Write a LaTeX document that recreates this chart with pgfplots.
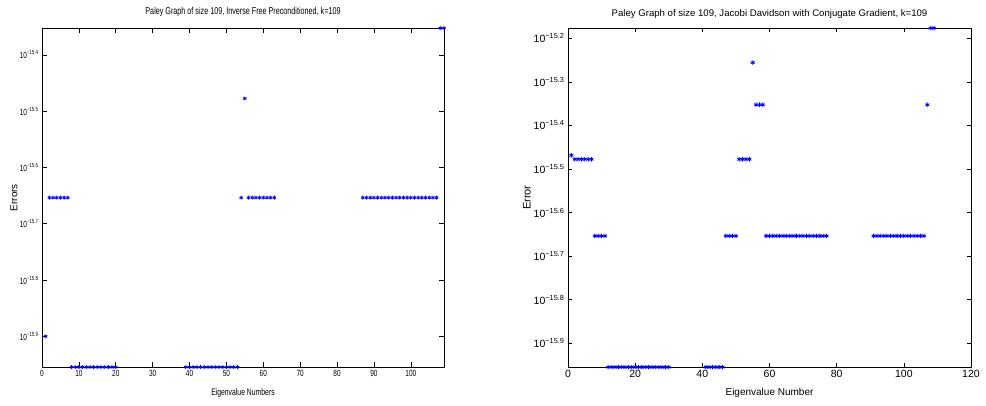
\documentclass[border=0pt]{standalone}
\usepackage{fontspec}
\setmainfont{Liberation Sans}
\newfontfamily\condfont[FakeStretch=0.72]{Liberation Sans}
\usepackage{pgfplots}
\pgfplotsset{compat=1.18}

\definecolor{mblue}{RGB}{0,0,255}

\begin{document}
\begin{tikzpicture}
\useasboundingbox (0,0) rectangle (986pt,405pt);

% left panel
\begin{axis}[
  at={(42pt,38pt)}, anchor=south west,
  scale only axis, width=402pt, height=339pt,
  ymode=log, xmin=0, xmax=109, ymin=1.1102e-16, ymax=4.4409e-16,
  xtick={0,10,...,100},
  ytick={1.2589e-16,1.5849e-16,1.9953e-16,2.5119e-16,3.1623e-16,3.9811e-16},
  yticklabels={10\textsuperscript{−15.9},10\textsuperscript{−15.8},10\textsuperscript{−15.7},10\textsuperscript{−15.6},10\textsuperscript{−15.5},10\textsuperscript{−15.4}},
  yminorticks=false,
  tick align=inside, major tick length=5pt,
  axis line style={line width=0.8pt}, every tick/.style={black, line width=0.6pt},
  /pgf/number format/assume math mode=true,
  tick label style={font=\condfont\fontsize{9}{10}\selectfont},
  title={Paley Graph of size 109, Inverse Free Preconditioned, k=109},
  title style={font=\condfont\fontsize{10}{11}\selectfont, at={(rel axis cs:0.5,1)}, yshift=10pt, anchor=center},
  xlabel={Eigenvalue Numbers},
  xlabel style={font=\condfont\fontsize{9.5}{10}\selectfont, at={(rel axis cs:0.5,0)}, yshift=-26pt, anchor=center},
  ylabel={Errors},
  ylabel style={font=\fontsize{10}{11}\selectfont, at={([xshift=-28pt]rel axis cs:0,0.5)}, anchor=center},
  clip=false,
]
\addplot[only marks, mark=asterisk, mark size=1.9pt, mark options={line width=0.8pt}, mblue] coordinates {
(1,1.2589e-16)
(2,2.2204e-16) (3,2.2204e-16) (4,2.2204e-16) (5,2.2204e-16) (6,2.2204e-16) (7,2.2204e-16)
(8,1.1102e-16) (9,1.1102e-16) (10,1.1102e-16) (11,1.1102e-16) (12,1.1102e-16) (13,1.1102e-16) (14,1.1102e-16)
(15,1.1102e-16) (16,1.1102e-16) (17,1.1102e-16) (18,1.1102e-16) (19,1.1102e-16) (20,1.1102e-16)
(39,1.1102e-16) (40,1.1102e-16) (41,1.1102e-16) (42,1.1102e-16) (43,1.1102e-16) (44,1.1102e-16) (45,1.1102e-16)
(46,1.1102e-16) (47,1.1102e-16) (48,1.1102e-16) (49,1.1102e-16) (50,1.1102e-16) (51,1.1102e-16) (52,1.1102e-16) (53,1.1102e-16)
(54,2.2204e-16) (55,3.3307e-16)
(56,2.2204e-16) (57,2.2204e-16) (58,2.2204e-16) (59,2.2204e-16) (60,2.2204e-16) (61,2.2204e-16) (62,2.2204e-16) (63,2.2204e-16)
(87,2.2204e-16) (88,2.2204e-16) (89,2.2204e-16) (90,2.2204e-16) (91,2.2204e-16) (92,2.2204e-16) (93,2.2204e-16)
(94,2.2204e-16) (95,2.2204e-16) (96,2.2204e-16) (97,2.2204e-16) (98,2.2204e-16) (99,2.2204e-16) (100,2.2204e-16)
(101,2.2204e-16) (102,2.2204e-16) (103,2.2204e-16) (104,2.2204e-16) (105,2.2204e-16) (106,2.2204e-16) (107,2.2204e-16)
(108,4.4409e-16) (109,4.4409e-16)
};
\end{axis}

% right panel
\begin{axis}[
  at={(568pt,38pt)}, anchor=south west,
  scale only axis, width=403pt, height=339pt,
  ymode=log, xmin=0, xmax=120, ymin=1.1102e-16, ymax=6.6613e-16,
  xtick={0,20,...,120},
  ytick={1.2589e-16,1.5849e-16,1.9953e-16,2.5119e-16,3.1623e-16,3.9811e-16,5.0119e-16,6.3096e-16},
  yticklabels={10\textsuperscript{−15.9},10\textsuperscript{−15.8},10\textsuperscript{−15.7},10\textsuperscript{−15.6},10\textsuperscript{−15.5},10\textsuperscript{−15.4},10\textsuperscript{−15.3},10\textsuperscript{−15.2}},
  yminorticks=false,
  tick align=inside, major tick length=4pt,
  axis line style={line width=0.8pt}, every tick/.style={black, line width=0.6pt},
  /pgf/number format/assume math mode=true,
  tick label style={font=\fontsize{10.5}{12}\selectfont},
  title={Paley Graph of size 109, Jacobi Davidson with Conjugate Gradient, k=109},
  title style={font=\fontsize{9.6}{11}\selectfont, at={(rel axis cs:0.5,1)}, yshift=8pt, anchor=center},
  xlabel={Eigenvalue Number},
  xlabel style={font=\fontsize{10}{12}\selectfont, at={(rel axis cs:0.5,0)}, yshift=-26pt, anchor=center},
  ylabel={Error},
  ylabel style={font=\fontsize{11}{12}\selectfont, at={([xshift=-41pt]rel axis cs:0,0.5)}, anchor=center},
  clip=false,
]
\addplot[only marks, mark=asterisk, mark size=2.3pt, mark options={line width=0.8pt}, mblue] coordinates {
(1,3.40e-16)
(2,3.3307e-16) (3,3.3307e-16) (4,3.3307e-16) (5,3.3307e-16) (6,3.3307e-16) (7,3.3307e-16)
(8,2.2204e-16) (9,2.2204e-16) (10,2.2204e-16) (11,2.2204e-16)
(12,1.1102e-16) (13,1.1102e-16) (14,1.1102e-16) (15,1.1102e-16) (16,1.1102e-16) (17,1.1102e-16) (18,1.1102e-16)
(19,1.1102e-16) (20,1.1102e-16) (21,1.1102e-16) (22,1.1102e-16) (23,1.1102e-16) (24,1.1102e-16) (25,1.1102e-16)
(26,1.1102e-16) (27,1.1102e-16) (28,1.1102e-16) (29,1.1102e-16) (30,1.1102e-16)
(41,1.1102e-16) (42,1.1102e-16) (43,1.1102e-16) (44,1.1102e-16) (45,1.1102e-16) (46,1.1102e-16)
(47,2.2204e-16) (48,2.2204e-16) (49,2.2204e-16) (50,2.2204e-16)
(51,3.3307e-16) (52,3.3307e-16) (53,3.3307e-16) (54,3.3307e-16)
(55,5.5511e-16)
(56,4.4409e-16) (57,4.4409e-16) (58,4.4409e-16)
(59,2.2204e-16) (60,2.2204e-16) (61,2.2204e-16) (62,2.2204e-16) (63,2.2204e-16) (64,2.2204e-16) (65,2.2204e-16)
(66,2.2204e-16) (67,2.2204e-16) (68,2.2204e-16) (69,2.2204e-16) (70,2.2204e-16) (71,2.2204e-16) (72,2.2204e-16)
(73,2.2204e-16) (74,2.2204e-16) (75,2.2204e-16) (76,2.2204e-16) (77,2.2204e-16)
(91,2.2204e-16) (92,2.2204e-16) (93,2.2204e-16) (94,2.2204e-16) (95,2.2204e-16) (96,2.2204e-16) (97,2.2204e-16)
(98,2.2204e-16) (99,2.2204e-16) (100,2.2204e-16) (101,2.2204e-16) (102,2.2204e-16) (103,2.2204e-16) (104,2.2204e-16)
(105,2.2204e-16) (106,2.2204e-16)
(107,4.4409e-16)
(108,6.6613e-16) (109,6.6613e-16)
};
\end{axis}
\end{tikzpicture}
\end{document}
